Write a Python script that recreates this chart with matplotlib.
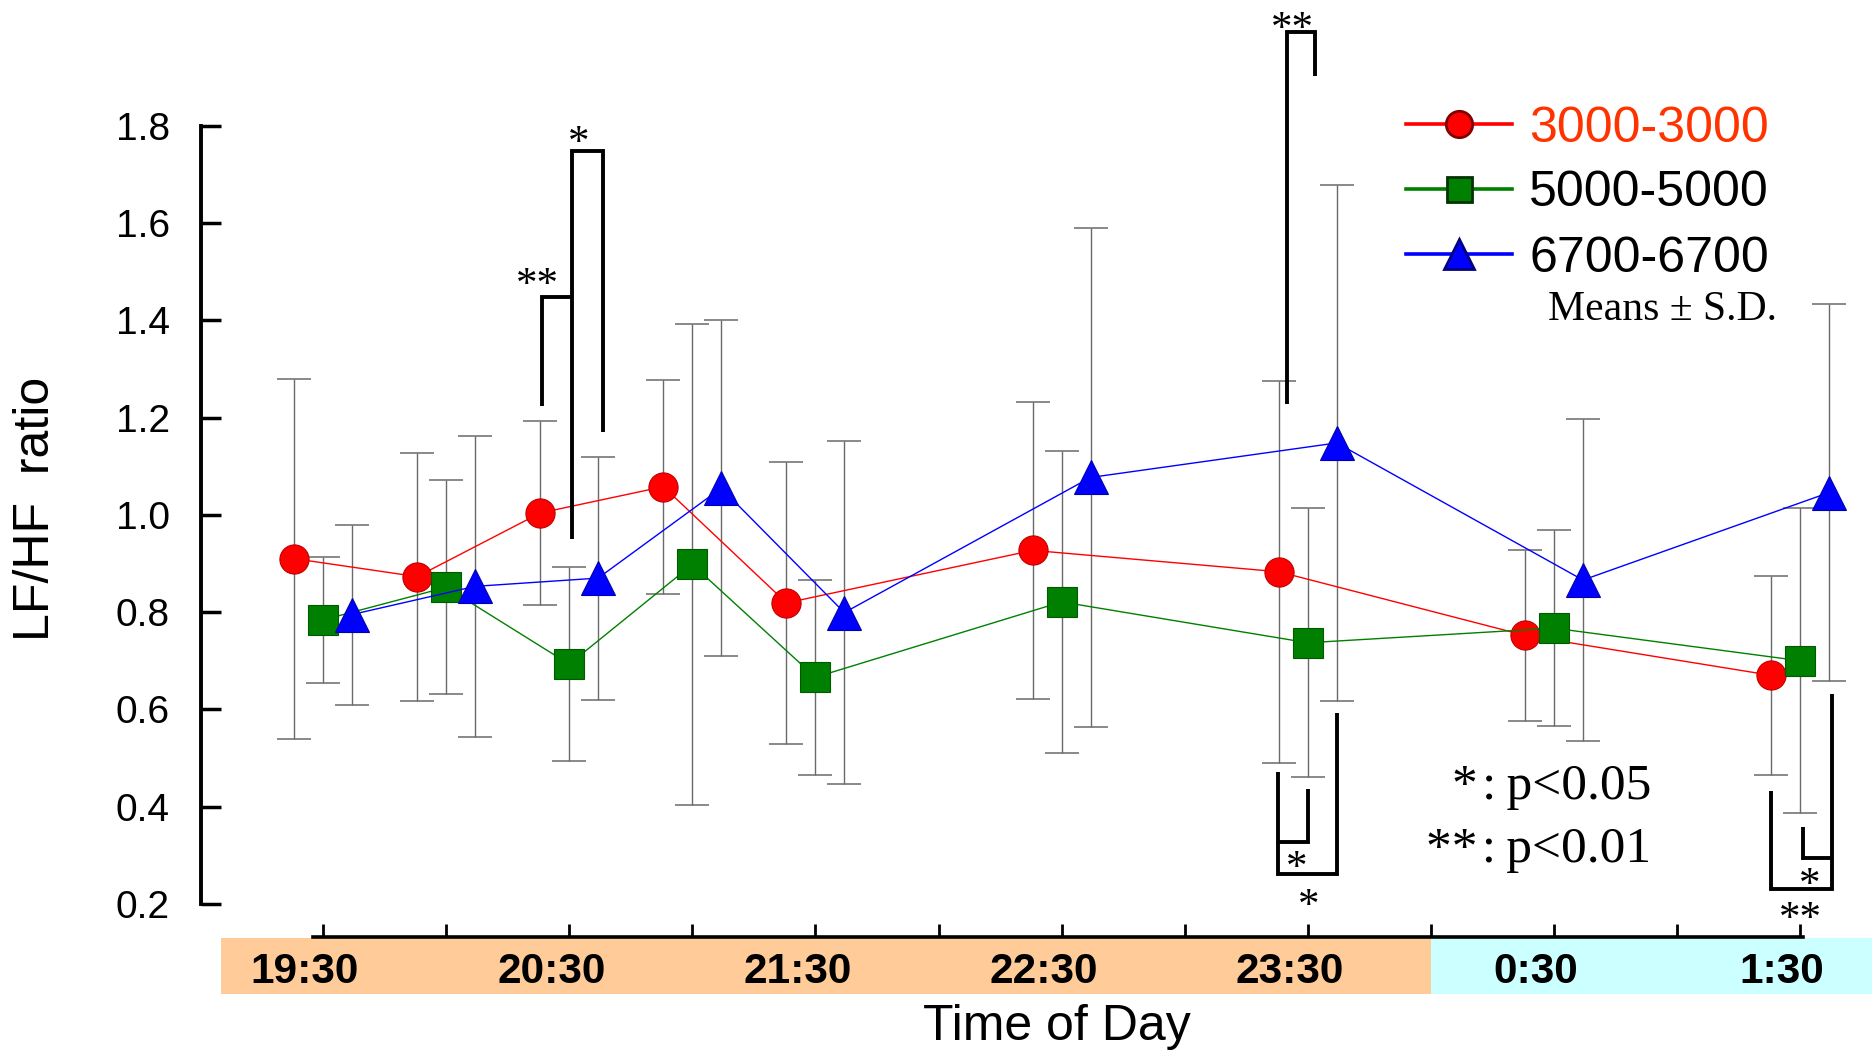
import matplotlib
matplotlib.use('Agg')
import matplotlib.pyplot as plt
from matplotlib.lines import Line2D
from matplotlib.patches import Rectangle
from matplotlib.transforms import ScaledTranslation

# ---------------- data ----------------
time_points = ['19:30', '20:00', '20:30', '21:00', '21:30', '22:30', '23:30', '0:30', '1:30']
tick_times = ['19:30', '20:00', '20:30', '21:00', '21:30', '22:00', '22:30',
              '23:00', '23:30', '0:00', '0:30', '1:00', '1:30']
series_names = ['3000-3000', '5000-5000', '6700-6700']
mean_3000 = [0.910, 0.873, 1.004, 1.058, 0.819, 0.927, 0.883, 0.752, 0.670]
sd_3000 = [0.370, 0.255, 0.190, 0.220, 0.290, 0.305, 0.393, 0.175, 0.205]
mean_5000 = [0.784, 0.851, 0.693, 0.898, 0.666, 0.821, 0.737, 0.767, 0.700]
sd_5000 = [0.130, 0.220, 0.200, 0.494, 0.200, 0.310, 0.277, 0.202, 0.314]
mean_6700 = [0.795, 0.853, 0.870, 1.055, 0.799, 1.077, 1.148, 0.866, 1.046]
sd_6700 = [0.185, 0.310, 0.250, 0.345, 0.352, 0.514, 0.530, 0.332, 0.387]
y_ticks = [0.2, 0.4, 0.6, 0.8, 1.0, 1.2, 1.4, 1.6, 1.8]


def slot(t):
    h, m = map(int, t.split(':'))
    minutes = h * 60 + m
    if h < 12:
        minutes += 24 * 60
    return (minutes - (19 * 60 + 30)) / 30.0


W, H = 1872, 1050
fig = plt.figure(figsize=(W / 100, H / 100), dpi=100)
ax = fig.add_axes([0, 0, 1, 1])
ax.set_xlim(-2.624, 12.583)
ax.set_ylim(-0.1006, 2.059)

SANS = ['Liberation Sans', 'DejaVu Sans']
SERIF = ['Liberation Serif', 'DejaVu Serif']

xs = [slot(t) for t in time_points]
offsets = [-0.235, 0.0, 0.235]
means = [mean_3000, mean_5000, mean_6700]
sds = [sd_3000, sd_5000, sd_6700]
line_cols = ['#FF0000', '#008000', '#0000FF']
edge_cols = ['#C00000', '#005A00', '#0000B0']
markers = ['o', 's', '^']
msizes = [21, 21, 24]

for i in range(3):
    xx = [x + offsets[i] for x in xs]
    _, caps, bars = ax.errorbar(xx, means[i], yerr=sds[i], fmt='none', ecolor='#6a6a6a',
                                elinewidth=1.0, capsize=12, capthick=1.1, zorder=2)
    for c in caps:
        c.set_color('#2a2a2a')
for i in range(3):
    xx = [x + offsets[i] for x in xs]
    ax.plot(xx, means[i], color=line_cols[i], lw=1.0, marker=markers[i],
            ms=msizes[i], mfc=line_cols[i], mec=edge_cols[i], mew=0.8, zorder=3 + i)

# ---------------- axes ----------------
for s in ['top', 'right']:
    ax.spines[s].set_visible(False)
ax.spines['left'].set_position(('data', -0.995))
ax.spines['left'].set_bounds(0.2, 1.8)
ax.spines['left'].set_linewidth(2.8)
ax.spines['bottom'].set_position(('data', 0.1328))
ax.spines['bottom'].set_bounds(-0.081, 12.02)
ax.spines['bottom'].set_linewidth(2.6)

ax.set_yticks(y_ticks)
ax.set_yticklabels([f'{v:.1f}' for v in y_ticks], fontfamily=SANS, fontsize=28)
ax.tick_params(axis='y', direction='in', length=14.4, width=2.5, pad=22)

ax.set_xticks([slot(t) for t in tick_times])
ax.set_xticklabels([t if t.endswith(':30') else '' for t in tick_times],
                   fontfamily=SANS, fontsize=30.5, fontweight='bold')
ax.tick_params(axis='x', direction='in', length=9.4, width=2.0, pad=11.5)
shift = ScaledTranslation(-18 / 100, 0, fig.dpi_scale_trans)
for lbl in ax.get_xticklabels():
    lbl.set_transform(lbl.get_transform() + shift)

# coloured time bands behind tick labels
band_top, band_bot = 0.1297, 0.0145
ax.add_patch(Rectangle((-0.831, band_bot), slot('0:00') + 0.831, band_top - band_bot,
                       facecolor='#FFCC99', edgecolor='none', zorder=0.5))
ax.add_patch(Rectangle((slot('0:00'), band_bot), 12.583 - slot('0:00'), band_top - band_bot,
                       facecolor='#CCFFFF', edgecolor='none', zorder=0.5))

ax.set_ylabel('LF/HF  ratio', fontfamily=SANS, fontsize=36, va='center')
ax.yaxis.set_label_coords(36.5 / W, 1 - 509 / H)
ax.set_xlabel('Time of Day', fontfamily=SANS, fontsize=36, va='baseline')
ax.xaxis.set_label_coords(1057 / W, 1 - 1040 / H)

# ---------------- significance brackets ----------------
brackets = [
    ('20:30', [(-0.224, 1.223), (-0.224, 1.448), (0.024, 1.448)]),
    ('20:30', [(0.024, 0.951), (0.024, 1.748), (0.273, 1.748), (0.273, 1.171)]),
    ('23:30', [(-0.17, 1.229), (-0.17, 1.994), (0.06, 1.994), (0.06, 1.903)]),
    ('23:30', [(-0.244, 0.4705), (-0.244, 0.3265), (0.004, 0.3265), (0.004, 0.436)]),
    ('23:30', [(-0.244, 0.3265), (-0.244, 0.261), (0.233, 0.261), (0.233, 0.593)]),
    ('1:30', [(-0.239, 0.433), (-0.239, 0.230), (0.257, 0.230), (0.257, 0.6315)]),
    ('1:30', [(0.025, 0.3574), (0.025, 0.2936), (0.257, 0.2936)]),
]
for t, pts in brackets:
    bx = [slot(t) + p[0] for p in pts]
    by = [p[1] for p in pts]
    ax.plot(bx, by, color='black', lw=2.8, solid_joinstyle='miter',
            solid_capstyle='butt', zorder=6, clip_on=False)

stars = [
    ('*', '20:30', 0.074, 1.785), ('**', '20:30', -0.262, 1.493),
    ('**', '23:30', -0.122, 2.019), ('*', '23:30', -0.09, 0.2936),
    ('*', '23:30', 0.007, 0.2147), ('*', '1:30', 0.08, 0.258),
    ('**', '1:30', 0.0, 0.189),
]
for s, t, dx, yc in stars:
    ax.text(slot(t) + dx, yc - 0.0425, s, fontfamily=SERIF, fontsize=31,
            ha='center', va='baseline', zorder=7)

# ---------------- legend & notes ----------------
handles = [
    Line2D([], [], color='#FF0000', lw=2.6, marker='o', ms=19, mfc='#FF0000', mec='#800000', mew=2),
    Line2D([], [], color='#008000', lw=2.6, marker='s', ms=18, mfc='#008000', mec='#003300', mew=2),
    Line2D([], [], color='#0000FF', lw=2.6, marker='^', ms=22, mfc='#0000FF', mec='#000080', mew=2),
]
leg = ax.legend(handles, series_names, loc='upper left',
                bbox_to_anchor=(1405.9 / W, 1 - 105.5 / H), bbox_transform=fig.transFigure,
                frameon=False, prop={'family': SANS, 'size': 36}, handlelength=2.13,
                handletextpad=0.34, labelspacing=0.38, borderpad=0, borderaxespad=0,
                numpoints=1)
for txt, c in zip(leg.get_texts(), ['#FF3300', 'black', 'black']):
    txt.set_color(c)

ax.text(1547.5 / W, 1 - 320 / H, 'Means ± S.D.', transform=ax.transAxes,
        fontfamily=SERIF, fontsize=30, ha='left', va='baseline')
ax.text(1651 / W, 1 - 798.5 / H, '*\u200a:\u2009p<0.05', transform=ax.transAxes,
        fontfamily=SERIF, fontsize=37, ha='right', va='baseline')
ax.text(1651 / W, 1 - 862 / H, '**\u200a:\u2009p<0.01', transform=ax.transAxes,
        fontfamily=SERIF, fontsize=37, ha='right', va='baseline')

fig.savefig('out.png', dpi=100)
